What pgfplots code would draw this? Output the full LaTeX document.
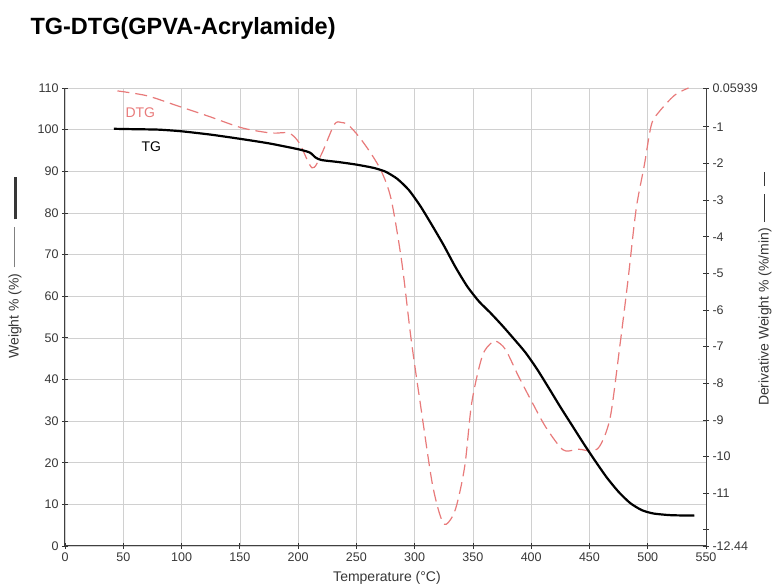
\documentclass[border=0pt]{standalone}
\usepackage{pgfplots}
\pgfplotsset{compat=1.18}
\usepackage{fontspec}
\setmainfont{Liberation Sans}
\definecolor{dtgred}{RGB}{232,122,122}
\definecolor{gridgray}{RGB}{208,208,208}
\definecolor{ticktext}{RGB}{55,55,55}

% TG curve: weight (%) against temperature (C)
\pgfplotstableread{
T W
42 100.2
60 100.1
80 100.0
100 99.6
125 98.8
150 97.8
175 96.7
200 95.3
210 94.5
215 93.3
220 92.7
235 92.2
250 91.6
265 90.8
275 89.9
285 88.2
295 85.5
305 81.6
315 77.0
325 72.2
335 67.0
345 62.4
355 58.8
365 56.0
375 53.0
385 49.8
395 46.5
405 42.5
415 38.0
425 33.4
435 29.0
445 24.6
455 20.4
465 16.4
475 13.0
485 10.3
495 8.6
505 7.8
520 7.4
540 7.3
}\tgdata

% DTG curve: derivative weight (%/min) against temperature (C)
\pgfplotstableread{
T D
45 -0.02
70 -0.15
94 -0.40
123 -0.71
152 -1.03
177 -1.17
192 -1.17
201 -1.44
212 -2.12
220 -1.75
231 -0.94
237 -0.88
243 -0.95
252 -1.26
263 -1.75
272 -2.25
280 -3.00
289 -4.70
297 -6.80
306 -8.80
315 -10.71
322 -11.62
327 -11.85
335 -11.44
343 -10.26
349 -8.53
358 -7.26
366 -6.89
370 -6.85
378 -7.08
389 -7.80
401 -8.53
412 -9.17
424 -9.71
430 -9.85
441 -9.80
453 -9.85
460 -9.65
468 -8.90
476 -7.00
483 -5.20
490 -3.26
497 -2.06
503 -0.96
509 -0.62
523 -0.14
535 0.06
}\dtgdata

\begin{document}
\begin{tikzpicture}
\pgfplotsset{
  every axis/.append style={
    scale only axis, width=641pt, height=458pt,
    at={(0,0)}, anchor=south west,
    xmin=0, xmax=550,
    tick align=center, major tick length=6pt,
    tick style={black!80, line width=0.8pt},
    every tick label/.append style={font=\fontsize{12.5}{14}\selectfont, text=ticktext},
    /pgf/number format/assume math mode=true,
    axis line style={black!75, line width=1pt},
  }
}
% grid and primary axes
\begin{axis}[
  ymin=0, ymax=110,
  axis x line*=bottom, axis y line*=left,
  xtick={0,50,...,550},
  ytick={0,10,...,110},
  grid=major, grid style={gridgray, line width=0.6pt},
]
\end{axis}
% DTG on the right-hand axis
\begin{axis}[
  ymin=-12.44, ymax=0.05939,
  axis x line=none, axis y line*=right,
  ytick={-12.44,-12,-11,-10,-9,-8,-7,-6,-5,-4,-3,-2,-1,0.05939},
  yticklabels={-12.44,,-11,-10,-9,-8,-7,-6,-5,-4,-3,-2,-1,0.05939},
]
\addplot[dtgred, line width=1.2pt, dash pattern=on 12pt off 6pt, smooth, tension=0.5]
  table[x=T, y=D] {\dtgdata};
\end{axis}
% TG on the left-hand axis
\begin{axis}[ymin=0, ymax=110, hide axis]
\addplot[black, line width=2.2pt, smooth, tension=0.4]
  table[x=T, y=W] {\tgdata};
\end{axis}

\node[anchor=base west, font=\bfseries\fontsize{23.5}{26}\selectfont] at (-38pt,511pt) {TG-DTG(GPVA-Acrylamide)};
\node[anchor=base, font=\fontsize{14}{16}\selectfont, text=ticktext] at (322pt,-36pt) {Temperature (°C)};
\node[rotate=90, font=\fontsize{14}{16}\selectfont, text=ticktext] at (-50pt,278pt)
  {Weight \% (\%)\hspace{6pt}\textcolor{gray}{\rule[0.3em]{40pt}{0.8pt}}\hspace{8pt}\rule[0.15em]{42pt}{3pt}};
\node[rotate=90, font=\fontsize{14}{16}\selectfont, text=ticktext] at (700pt,257pt)
  {Derivative Weight \% (\%/min)\hspace{6pt}\rule[0.3em]{28pt}{0.8pt}\hspace{8pt}\rule[0.3em]{14pt}{0.8pt}};
\node[anchor=base west, font=\fontsize{14}{16}\selectfont, text=dtgred] at (57pt,428pt) {DTG};
\node[anchor=base west, font=\fontsize{14}{16}\selectfont] at (73pt,394pt) {TG};

\pgfresetboundingbox
\path[use as bounding box] (-65pt,-40pt) rectangle (709pt,546pt);
\end{tikzpicture}
\end{document}
